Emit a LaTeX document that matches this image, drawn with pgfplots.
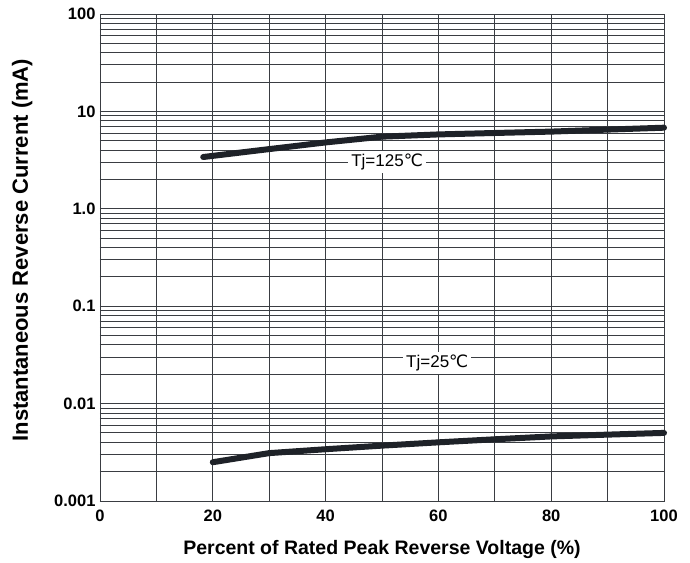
\documentclass[border=0pt]{standalone}
\usepackage{pgfplots}
\pgfplotsset{compat=1.18}
\usepackage{fontspec}
\setmainfont{Liberation Sans}
\newfontfamily\dejavu{DejaVu Sans}
\definecolor{curve}{HTML}{1E2228}
\definecolor{gridc}{HTML}{3A3D42}

\begin{document}
\begin{tikzpicture}
\begin{axis}[
  width=564pt, height=487pt, scale only axis,
  xmin=0, xmax=100,
  ymode=log, ymin=0.001, ymax=100,
  xtick={0,20,40,60,80,100},
  minor x tick num=1,
  ytick={0.001,0.01,0.1,1,10,100},
  yticklabels={0.001,0.01,0.1,1.0,10,100},
  xmajorgrids, xminorgrids, ymajorgrids, yminorgrids,
  major grid style={gridc, line width=0.9pt},
  minor grid style={gridc, line width=0.9pt},
  axis line style={gridc, line width=0.9pt},
  major tick length=0pt, minor tick length=0pt,
  /pgf/number format/assume math mode=true,
  tick label style={font=\fontsize{16.5}{19}\selectfont\bfseries},
  yticklabel style={xshift=-1pt},
  xticklabel style={yshift=-5pt},
  xlabel={Percent of Rated Peak Reverse Voltage (\%)},
  ylabel={Instantaneous Reverse Current (mA)},
  xlabel style={font=\fontsize{19.5}{22}\selectfont\bfseries, at={(rel axis cs:0.5,-0.1006)}, anchor=center},
  ylabel style={font=\fontsize{22}{24}\selectfont\bfseries, at={(rel axis cs:-0.138,0.515)}, anchor=center},
  clip=false,
]
\path (rel axis cs:-0.1773,-0.1273) rectangle (rel axis cs:1.0461,1.0287);
\addplot[curve, line width=6pt, line cap=round] coordinates {
  (18.3,3.4) (30,4.1) (40,4.8) (50,5.5) (60,5.8) (70,6.0) (80,6.2) (90,6.5) (100,6.8)
};
\addplot[curve, line width=6pt, line cap=round] coordinates {
  (20,0.0025) (30,0.0031) (40,0.0034) (50,0.0037) (60,0.0040) (70,0.0043) (80,0.0046) (90,0.0048) (100,0.0050)
};
\node[fill=white, inner sep=3pt, font=\fontsize{17}{19}\selectfont] at (axis cs:50.9,3.0) {Tj=125{\dejavu ℃}};
\node[fill=white, inner sep=3pt, font=\fontsize{17}{19}\selectfont] at (axis cs:59.8,0.026) {Tj=25{\dejavu ℃}};
\end{axis}
\end{tikzpicture}
\end{document}
